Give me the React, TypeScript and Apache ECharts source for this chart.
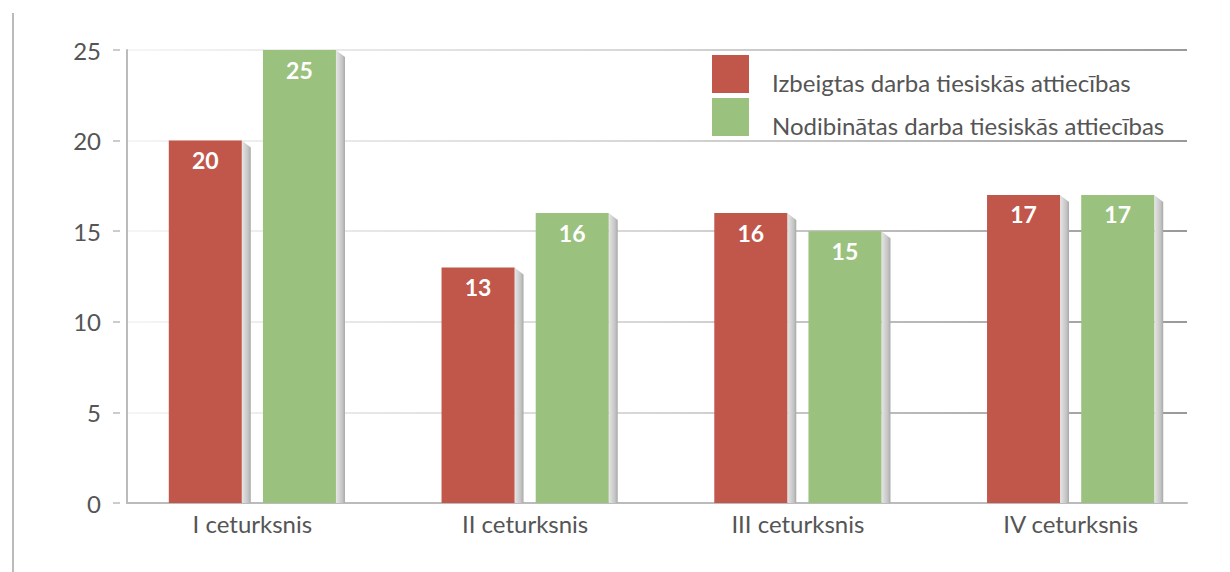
import React, { useEffect, useRef } from "react";
import * as echarts from "echarts";

const categories = ["I ceturksnis", "II ceturksnis", "III ceturksnis", "IV ceturksnis"];
const seriesNames = ["Izbeigtas darba tiesiskās attiecības", "Nodibinātas darba tiesiskās attiecības"];
const terminated = [20, 13, 16, 17];
const established = [25, 16, 15, 17];
const yMin = 0;
const yMax = 25;
const yStep = 5;

const FONT = "Lato, 'Open Sans', sans-serif";
const TEXT = "#555555";
const RED = "#c0574a";
const GREEN = "#9bc17e";
const ICON = "path://M0,0L37,0L37,38L0,38Z M36.95,54L37,54L37,53.95Z";

export default function App() {
  const ref = useRef<HTMLDivElement>(null);
  useEffect(() => {
    document.body.style.margin = "0";
    if (!ref.current) return;
    const chart = echarts.init(ref.current, undefined, { renderer: "svg" });
    const gridGrad = new echarts.graphic.LinearGradient(
      127, 0, 1187, 0,
      [
        { offset: 0, color: "#f2f2f2" },
        { offset: 0.5, color: "#c8c8c8" },
        { offset: 1, color: "#777777" },
      ],
      true
    );
    const label = {
      show: true,
      position: "insideTop",
      distance: 8,
      color: "#ffffff",
      fontWeight: "bold",
      fontSize: 23,
      fontFamily: FONT,
    };
    const sideFace = (offset: number) => (params: any, api: any) => {
      const top = api.coord([api.value(0), api.value(1)]);
      const base = api.coord([api.value(0), 0]);
      const xR = top[0] + offset + 36.5;
      return {
        type: "polygon",
        shape: {
          points: [
            [xR, top[1]],
            [xR + 9, top[1] + 7],
            [xR + 9, base[1]],
            [xR, base[1]],
          ],
        },
        style: {
          fill: new echarts.graphic.LinearGradient(0, 0, 1, 0, [
            { offset: 0, color: "#e6e6e6" },
            { offset: 0.7, color: "#c4c4c4" },
            { offset: 1, color: "#a8a8a8" },
          ]),
        },
      };
    };
    const legendCommon = {
      orient: "vertical",
      left: 712,
      padding: 0,
      itemWidth: 37,
      itemHeight: 54,
      itemGap: 0,
      icon: ICON,
      textStyle: {
        fontSize: 24,
        color: TEXT,
        fontFamily: FONT,
        padding: [0, 0, 0, 18],
      },
    };
    chart.setOption({
      animation: false,
      textStyle: { fontFamily: FONT },
      grid: [
        { left: 127, right: 43, top: 50, bottom: 69 },
        { left: 120, right: 43, top: 50, bottom: 69 },
        { left: 116, right: 23, top: 50, bottom: 69 },
      ],
      legend: [
        { ...legendCommon, top: 55, data: [seriesNames[0]] },
        { ...legendCommon, top: 98, data: [seriesNames[1]] },
      ],
      xAxis: [
        {
          gridIndex: 0,
          type: "category",
          data: categories,
          axisLine: { show: true, lineStyle: { color: "#bbbbbb", width: 2 } },
          axisTick: { show: false },
          axisLabel: { show: false },
        },
        {
          gridIndex: 1,
          type: "category",
          data: categories,
          show: false,
        },
        {
          gridIndex: 2,
          type: "category",
          data: categories,
          axisLine: { show: false },
          axisTick: { show: false },
          axisLabel: { fontSize: 24, color: TEXT, margin: 8, fontFamily: FONT },
        },
      ],
      yAxis: [
        {
          gridIndex: 0,
          type: "value",
          min: yMin,
          max: yMax,
          interval: yStep,
          axisLine: { show: true, lineStyle: { color: "#bbbbbb", width: 2 } },
          axisTick: { show: false },
          axisLabel: { show: false },
          splitLine: { show: true, lineStyle: { color: gridGrad, width: 1.5 } },
        },
        {
          gridIndex: 1,
          type: "value",
          min: yMin,
          max: yMax,
          interval: yStep,
          axisLine: { show: false },
          axisTick: { show: true, length: 7, lineStyle: { color: "#bbbbbb", width: 1.5 } },
          axisLabel: { fontSize: 24, color: TEXT, margin: 19, fontFamily: FONT },
          splitLine: { show: false },
        },
        {
          gridIndex: 2,
          type: "value",
          min: yMin,
          max: yMax,
          interval: yStep,
          show: false,
          splitLine: { show: false },
        },
      ],
      series: [
        {
          type: "custom",
          xAxisIndex: 2,
          yAxisIndex: 2,
          z: 1,
          silent: true,
          data: terminated.map((v, i) => [i, v]),
          renderItem: sideFace(-47.1),
        },
        {
          type: "custom",
          xAxisIndex: 2,
          yAxisIndex: 2,
          z: 1,
          silent: true,
          data: established.map((v, i) => [i, v]),
          renderItem: sideFace(47.1),
        },
        {
          name: seriesNames[0],
          type: "bar",
          xAxisIndex: 2,
          yAxisIndex: 2,
          z: 2,
          data: terminated,
          barWidth: 73,
          barGap: "29%",
          itemStyle: { color: RED },
          label,
        },
        {
          name: seriesNames[1],
          type: "bar",
          xAxisIndex: 2,
          yAxisIndex: 2,
          z: 2,
          data: established,
          barWidth: 73,
          barGap: "29%",
          itemStyle: { color: GREEN },
          label,
        },
      ],
      graphic: [
        {
          type: "line",
          shape: { x1: 13, y1: 13, x2: 13, y2: 572 },
          style: { stroke: "#bbbbbb", lineWidth: 2 },
        },
      ],
    });
    return () => chart.dispose();
  }, []);
  return <div ref={ref} style={{ width: 1230, height: 572 }} />;
}
